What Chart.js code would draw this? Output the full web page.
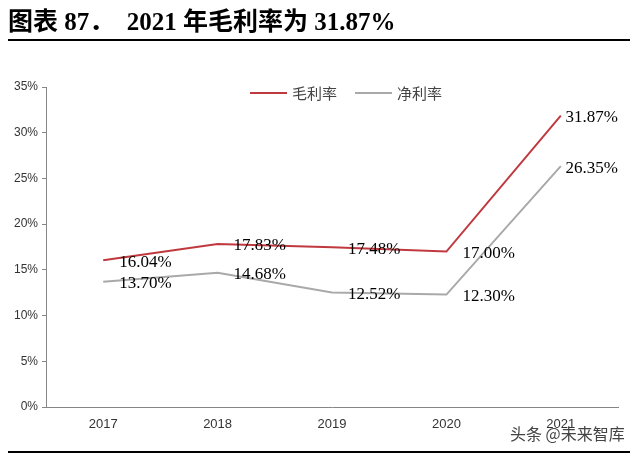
<!DOCTYPE html>
<html>
<head>
<meta charset="utf-8">
<script src="https://cdn.jsdelivr.net/npm/chart.js@4"></script>
<style>
  html, body { margin: 0; padding: 0; background: #fff; }
  #wrap { position: relative; width: 640px; height: 456px; overflow: hidden; }
  #title {
    position: absolute; left: 8px; top: 4px; width: 622px; height: 35px;
    border-bottom: 2px solid #000;
    font: bold 25px "Liberation Serif", "Noto Sans CJK SC", serif; color: #000;
    line-height: 35px; white-space: pre;
  }
  #legend {
    position: absolute; top: 82px; left: 250px;
    font: 15px "Noto Sans CJK SC", sans-serif; color: #444;
    display: flex; align-items: center;
  }
  #legend span.sw { display: inline-block; width: 37px; height: 2px; margin-right: 5px; }
  #legend span.tx { margin-right: 18px; }
  #foot {
    position: absolute; left: 8px; top: 451px; width: 622px; height: 0;
    border-top: 2px solid #000;
  }
  #mark {
    position: absolute; left: 510px; top: 421px;
    font: 16px "Noto Sans CJK SC", sans-serif; color: #444;
  }
  canvas { position: absolute; left: 0; top: 0; }
</style>
</head>
<body>
<div id="wrap">
  <canvas id="c" width="640" height="456"></canvas>
  <div id="title">图表 87．  2021 年毛利率为 31.87%</div>
  <div id="legend"></div>
  <div id="foot"></div>
  <div id="mark">头条 @未来智库</div>
</div>
<script>
var years = ['2017', '2018', '2019', '2020', '2021'];
var grossMargin = [16.04, 17.83, 17.48, 17.00, 31.87];
var netMargin = [13.70, 14.68, 12.52, 12.30, 26.35];
var yTicks = [0, 5, 10, 15, 20, 25, 30, 35];

// value labels right of each point, kept inside the plot area
var pointLabels = {
    id: 'pointLabels',
    afterDatasetsDraw: function(chart) {
        var ctx = chart.ctx;
        ctx.save();
        ctx.font = '17px "Liberation Serif", serif';
        ctx.fillStyle = '#000';
        ctx.textBaseline = 'middle';
        chart.data.datasets.forEach(function(ds, i) {
            chart.getDatasetMeta(i).data.forEach(function(pt, j) {
                var txt = ds.data[j].toFixed(2) + '%';
                var w = ctx.measureText(txt).width;
                var x = Math.min(pt.x + 16, chart.chartArea.right - w);
                ctx.fillText(txt, x, pt.y + 2);
            });
        });
        ctx.restore();
    }
};

var ctx = document.getElementById('c').getContext('2d');
var chart = new Chart(ctx, {
    type: 'line',
    data: {
        labels: years,
        datasets: [{
            label: '毛利率',
            data: grossMargin,
            borderColor: '#c0393f',
            borderWidth: 2,
            pointRadius: 0,
            tension: 0
        }, {
            label: '净利率',
            data: netMargin,
            borderColor: '#a9a9a9',
            borderWidth: 2,
            pointRadius: 0,
            tension: 0
        }]
    },
    options: {
        responsive: false,
        animation: false,
        layout: { padding: { left: 0, right: 22, top: 87, bottom: 0 } },
        plugins: {
            legend: { display: false },
            tooltip: { enabled: false }
        },
        scales: {
            x: {
                offset: true,
                grid: { drawOnChartArea: false, drawTicks: false },
                border: { color: '#868686', width: 1 },
                ticks: { padding: 10, color: '#333', font: { family: 'Liberation Sans', size: 13 } },
                afterFit: function(s) { s.height = 49; }
            },
            y: {
                min: 0,
                max: 35,
                afterBuildTicks: function(s) { s.ticks = yTicks.map(function(v) { return { value: v }; }); },
                grid: { drawOnChartArea: false, tickLength: 4, color: '#868686' },
                border: { color: '#868686', width: 1 },
                ticks: {
                    padding: 4,
                    color: '#333',
                    font: { family: 'Liberation Sans', size: 12 },
                    callback: function(v) { return v + '%'; }
                },
                afterFit: function(s) { s.width = 46; }
            }
        }
    },
    plugins: [pointLabels]
});

var legend = document.getElementById('legend');
chart.data.datasets.forEach(function(ds) {
    legend.innerHTML += '<span class="sw" style="background:' + ds.borderColor + '"></span>' +
        '<span class="tx">' + ds.label + '</span>';
});
</script>
</body>
</html>
